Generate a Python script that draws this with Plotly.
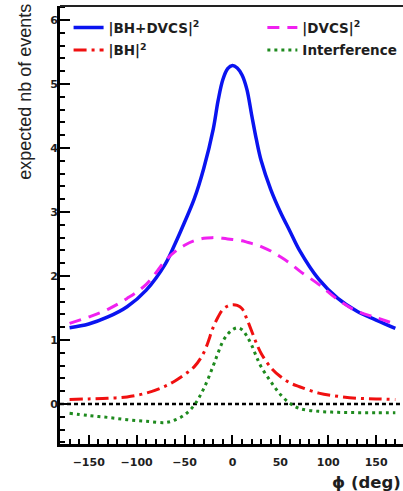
import plotly.graph_objects as go

# azimuthal angle grid (deg)
phi = [-170, -150, -130, -110, -90, -70, -60, -50, -40, -30, -20, -15, -10, -5, 0,
       5, 10, 15, 20, 25, 30, 40, 50, 60, 70, 90, 110, 130, 150, 170]

# expected number of events per contribution
bh_dvcs = [1.19, 1.25, 1.36, 1.52, 1.78, 2.19, 2.50, 2.84, 3.20, 3.68, 4.30, 4.74, 5.07, 5.24, 5.29,
           5.25, 5.14, 4.92, 4.52, 4.13, 3.80, 3.35, 3.00, 2.70, 2.40, 1.95, 1.65, 1.45, 1.31, 1.18]
dvcs = [1.26, 1.36, 1.48, 1.65, 1.87, 2.24, 2.38, 2.48, 2.55, 2.59, 2.60, 2.60, 2.59, 2.58, 2.57,
        2.56, 2.55, 2.53, 2.51, 2.49, 2.46, 2.39, 2.30, 2.20, 2.08, 1.87, 1.63, 1.45, 1.35, 1.25]
bh = [0.07, 0.08, 0.09, 0.11, 0.17, 0.28, 0.36, 0.46, 0.58, 0.80, 1.20, 1.36, 1.48, 1.53, 1.55,
      1.54, 1.49, 1.33, 1.14, 0.95, 0.79, 0.57, 0.43, 0.33, 0.27, 0.17, 0.12, 0.09, 0.08, 0.07]
interference = [-0.145, -0.18, -0.21, -0.245, -0.27, -0.29, -0.25, -0.17, -0.02, 0.24, 0.60, 0.80,
                0.98, 1.09, 1.16, 1.19, 1.16, 1.06, 0.92, 0.74, 0.58, 0.35, 0.15, 0.01, -0.07,
                -0.115, -0.13, -0.135, -0.135, -0.135]

x_ticks = [-150, -100, -50, 0, 50, 100, 150]
y_ticks = [0, 1, 2, 3, 4, 5, 6]

TXT = "#1e1e1e"
FONT = "DejaVu Sans"

fig = go.Figure()

# zero reference line
fig.add_shape(type="line", xref="paper", x0=0, x1=1, yref="y", y0=0, y1=0,
              line=dict(color="black", width=2.5, dash="4px,3px"), layer="below")

# (label, values, colour, dash, width, legend, group)
series = [
    ("|BH+DVCS|<sup>2</sup>", bh_dvcs, "#0a14f0", None, 3.5, "legend", "a"),
    ("|DVCS|<sup>2</sup>", dvcs, "#f020f0", "12px,8px", 3, "legend2", "c"),
    ("|BH|<sup>2</sup>", bh, "#f01010", "13px,5px,3px,5px", 3, "legend", "b"),
    ("Interference", interference, "#1e8a1e", "3px,4px", 3, "legend2", "d"),
]
for name, vals, color, dash, width, leg, grp in series:
    fig.add_trace(go.Scatter(
        x=phi, y=vals, mode="lines", name=name, legend=leg, legendgroup=grp,
        line=dict(color=color, width=width, dash=dash, shape="spline", smoothing=1.0),
    ))

# frame top edge
fig.add_shape(type="line", xref="paper", yref="paper", x0=0, x1=1, y0=1, y1=1,
              line=dict(color="#222", width=2))

fig.add_annotation(text="expected nb of events", xref="paper", yref="paper",
                   x=-0.102, y=0.804, textangle=-90, showarrow=False,
                   xanchor="center", yanchor="middle",
                   font=dict(family="Liberation Sans", size=18, color="#222"))
fig.add_annotation(text="ϕ (deg)", xref="paper", yref="paper",
                   x=1.0, y=-0.087, showarrow=False, xanchor="right", yanchor="middle",
                   font=dict(family=FONT, size=16.5, color=TXT, weight="bold"))

legend_font = dict(family=FONT, size=13.5, color=TXT, weight="bold")
fig.update_layout(
    width=403, height=491,
    margin=dict(l=60, r=0, t=6, b=47),
    paper_bgcolor="white", plot_bgcolor="white",
    showlegend=True,
    legend=dict(x=0.025, y=0.986, xanchor="left", yanchor="top", tracegroupgap=2,
                font=legend_font, bgcolor="rgba(0,0,0,0)"),
    legend2=dict(x=0.59, y=0.986, xanchor="left", yanchor="top", tracegroupgap=2,
                 font=legend_font, bgcolor="rgba(0,0,0,0)"),
    xaxis=dict(range=[-180, 178], tickvals=x_ticks, ticks="inside", ticklen=9, tickwidth=2,
               tickcolor="black", showline=True, linewidth=3, linecolor="black",
               showgrid=False, zeroline=False, ticklabelstandoff=6,
               tickfont=dict(family=FONT, size=11, color=TXT, weight="bold"),
               minor=dict(dtick=10, ticks="inside", ticklen=5, tickwidth=2, tickcolor="black",
                          showgrid=False)),
    yaxis=dict(range=[-0.625, 6.219], tickvals=y_ticks, ticks="inside", ticklen=10, tickwidth=2,
               tickcolor="black", showline=True, linewidth=3, linecolor="black",
               showgrid=False, zeroline=False, ticklabelstandoff=-3,
               tickfont=dict(family=FONT, size=11, color=TXT, weight="bold"),
               minor=dict(dtick=0.2, tick0=0, ticks="inside", ticklen=5, tickwidth=2,
                          tickcolor="black", showgrid=False)),
)

fig.write_html("out.html")
